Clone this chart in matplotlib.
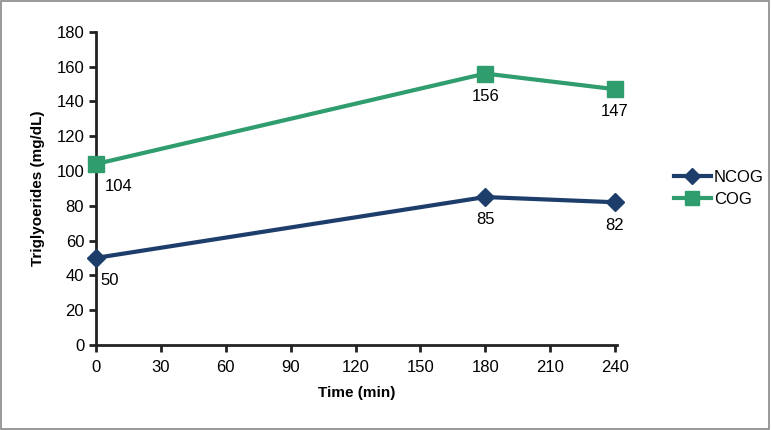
import matplotlib

matplotlib.use("Agg")
import matplotlib.pyplot as plt
from matplotlib.patches import Rectangle

plt.rcParams["font.family"] = ["Liberation Sans", "DejaVu Sans"]

time_min = [0, 180, 240]
ncog = [50, 85, 82]
cog = [104, 156, 147]
x_ticks = [0, 30, 60, 90, 120, 150, 180, 210, 240]
y_ticks = [0, 20, 40, 60, 80, 100, 120, 140, 160, 180]

navy = "#1d3d6b"
green = "#2f9d6d"

fig = plt.figure(figsize=(7.71, 4.30), dpi=100)
ax = fig.add_axes([0.1245, 0.198, 0.676, 0.728])

ax.plot(time_min, ncog, color=navy, lw=3, marker="D", ms=9, label="NCOG",
        clip_on=False, zorder=3)
ax.plot(time_min, cog, color=green, lw=3, marker="s", ms=12, label="COG",
        clip_on=False, zorder=3)

for i, (t, v) in enumerate(zip(time_min, ncog)):
    dx = 10 if i == 0 else 0
    ax.annotate(str(v), (t, v), xytext=(dx, -11), textcoords="offset points",
                ha="center", va="top", fontsize=12)
for i, (t, v) in enumerate(zip(time_min, cog)):
    dx = 16 if i == 0 else 0
    ax.annotate(str(v), (t, v), xytext=(dx, -11), textcoords="offset points",
                ha="center", va="top", fontsize=12)

ax.set_xlim(0, 241)
ax.set_ylim(0, 180)
ax.set_xticks(x_ticks)
ax.set_yticks(y_ticks)
ax.tick_params(labelsize=12, width=2, length=5, color="#222222")
ax.tick_params(axis="x", pad=6)
for side in ("top", "right"):
    ax.spines[side].set_visible(False)
for side in ("left", "bottom"):
    ax.spines[side].set_linewidth(2)
    ax.spines[side].set_color("#222222")

ax.set_xlabel("Time (min)", fontsize=11, fontweight="bold", labelpad=8)
ax.set_ylabel("Triglyoerides (mg/dL)", fontsize=11, fontweight="bold",
              labelpad=8)

ax.legend(loc="center left", bbox_to_anchor=(1.08, 0.5), frameon=False,
          fontsize=12, handlelength=2.2, handletextpad=0.2,
          labelspacing=0.4, markerscale=0.85)

fig.patches.append(Rectangle((0.001, 0.002), 0.997, 0.996,
                             transform=fig.transFigure, fill=False,
                             edgecolor="#888888", lw=1.2))

fig.savefig("out.png", dpi=100)
